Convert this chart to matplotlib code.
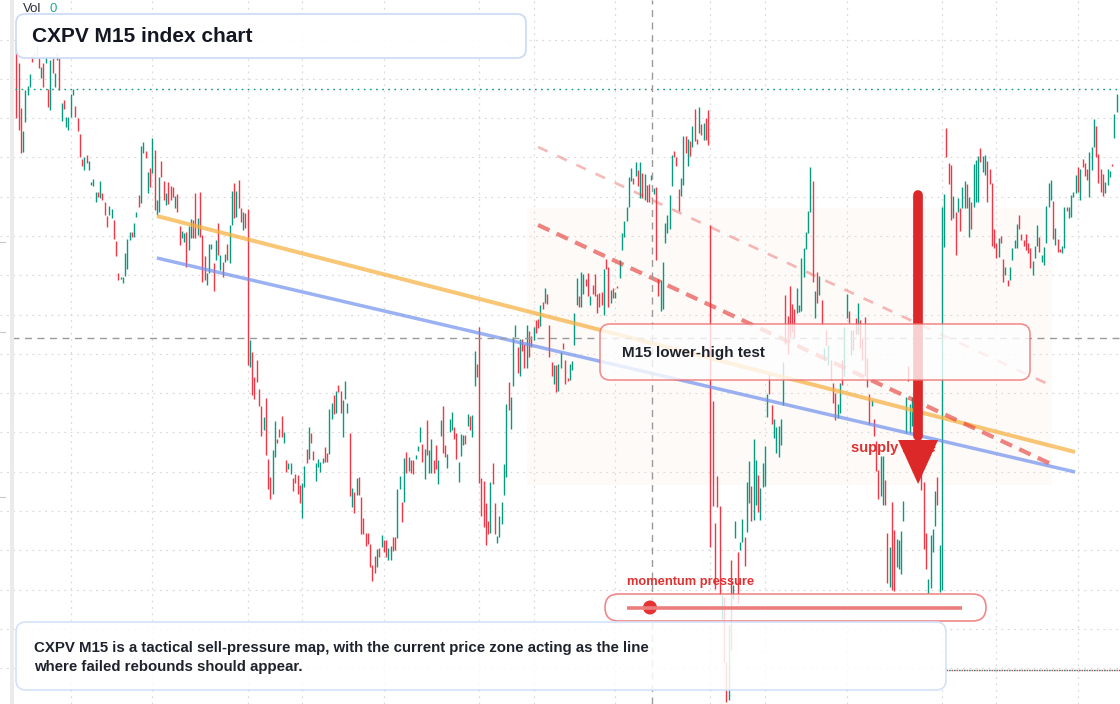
import matplotlib
matplotlib.use("Agg")
import matplotlib.pyplot as plt
from matplotlib.patches import FancyBboxPatch, Polygon, Rectangle, Circle

plt.rcParams['font.family'] = ['Liberation Sans', 'DejaVu Sans']

# ---------------- data (price points, one entry per M15 candle) ----------------
opens = [958, 937, 892, 848, 878, 905, 913, 945, 942, 944, 942, 922, 937, 937, 911, 890, 942, 913, 940, 942,
         879, 900, 873, 870, 883, 905, 894, 882, 866, 841, 830, 845, 830, 815, 814, 798, 808, 802, 807, 798,
         784, 785, 782, 780, 759, 727, 721, 717, 724, 731, 760, 768, 763, 783, 805, 797, 847, 849, 807, 832,
         827, 850, 785, 788, 839, 819, 795, 818, 814, 813, 792, 806, 774, 762, 758, 768, 750, 762, 780, 807,
         765, 808, 765, 744, 715, 727, 751, 737, 740, 777, 730, 738, 738, 756, 737, 775, 817, 783, 820, 792,
         770, 787, 791, 633, 648, 623, 640, 611, 594, 570, 602, 541, 523, 506, 543, 561, 571, 584, 557, 540,
         531, 526, 522, 526, 525, 515, 482, 513, 551, 541, 567, 549, 519, 533, 528, 537, 553, 547, 546, 581,
         605, 587, 615, 609, 563, 601, 587, 567, 493, 508, 505, 523, 503, 482, 467, 467, 456, 435, 444, 433,
         452, 453, 460, 460, 440, 440, 463, 463, 462, 511, 498, 498, 548, 529, 540, 540, 541, 549, 558, 556,
         521, 580, 527, 527, 540, 555, 516, 564, 594, 555, 532, 568, 570, 573, 567, 518, 544, 555, 565, 574,
         584, 563, 614, 636, 673, 522, 519, 497, 479, 467, 537, 497, 457, 463, 476, 505, 523, 618, 571, 614,
         663, 653, 624, 661, 656, 632, 669, 664, 660, 680, 681, 674, 698, 697, 706, 675, 638, 616, 635, 609,
         632, 657, 640, 622, 620, 630, 655, 695, 704, 693, 706, 721, 727, 695, 715, 726, 706, 707, 708, 685,
         741, 733, 697, 712, 702, 714, 722, 750, 763, 779, 793, 819, 822, 824, 830, 802, 827, 800, 815, 816,
         820, 806, 813, 721, 689, 691, 757, 767, 771, 814, 849, 843, 811, 804, 815, 864, 834, 859, 853, 891,
         861, 867, 876, 860, 882, 890, 775, 599, 477, 524, 494, 381, 403, 338, 300, 440, 401, 462, 448, 450,
         458, 463, 468, 497, 514, 480, 495, 525, 480, 513, 514, 583, 626, 595, 562, 547, 543, 555, 595, 705,
         684, 714, 696, 691, 687, 688, 689, 723, 751, 767, 788, 819, 682, 728, 705, 700, 640, 670, 635, 640,
         617, 607, 582, 587, 640, 624, 682, 689, 645, 670, 682, 666, 680, 662, 683, 642, 606, 594, 581, 559,
         530, 504, 495, 520, 467, 413, 498, 470, 433, 431, 426, 479, 567, 634, 567, 574, 574, 576, 600, 530,
         518, 467, 407, 412, 448, 474, 523, 408, 410, 753, 872, 837, 835, 782, 788, 788, 792, 792, 792, 816,
         763, 798, 793, 798, 798, 852, 828, 825, 839, 831, 817, 771, 757, 743, 764, 741, 725, 720, 720, 740,
         752, 752, 785, 766, 760, 766, 757, 752, 725, 742, 754, 763, 738, 735, 757, 793, 800, 799, 755, 761,
         751, 747, 752, 793, 782, 783, 803, 807, 833, 800, 841, 837, 831, 803, 830, 853, 874, 846, 831, 826,
         807, 815, 823, 836, 862, 888]
closes = [882, 870, 847, 869, 910, 914, 926, 938, 948, 955, 932, 933, 913, 945, 893, 940, 927, 927, 947, 910,
          897, 891, 883, 883, 906, 911, 883, 869, 843, 834, 843, 837, 839, 818, 821, 808, 803, 819, 800, 785,
          773, 794, 791, 761, 744, 720, 723, 723, 747, 761, 768, 763, 777, 788, 793, 854, 858, 842, 828, 813,
          862, 790, 800, 823, 823, 800, 807, 796, 800, 803, 804, 788, 755, 769, 767, 733, 774, 781, 762, 762,
          782, 763, 718, 720, 727, 756, 756, 709, 760, 745, 745, 723, 746, 740, 775, 809, 782, 809, 792, 778,
          788, 772, 635, 660, 605, 601, 618, 594, 564, 583, 545, 511, 501, 550, 579, 557, 563, 563, 568, 528,
          537, 537, 509, 517, 506, 497, 517, 534, 537, 573, 557, 540, 537, 541, 538, 542, 538, 538, 591, 597,
          586, 609, 608, 587, 600, 619, 597, 504, 512, 487, 522, 505, 466, 466, 454, 456, 433, 419, 427, 451,
          443, 465, 448, 443, 452, 454, 449, 450, 511, 524, 478, 542, 527, 543, 527, 526, 545, 554, 573, 538,
          551, 545, 550, 561, 527, 531, 540, 580, 547, 543, 546, 581, 588, 561, 541, 538, 566, 565, 556, 586,
          570, 585, 649, 623, 517, 484, 473, 455, 466, 518, 516, 466, 464, 484, 498, 536, 596, 590, 603, 663,
          675, 627, 661, 649, 632, 675, 643, 653, 673, 667, 672, 695, 691, 712, 696, 643, 624, 635, 608, 636,
          648, 651, 616, 619, 636, 639, 687, 722, 693, 728, 726, 714, 704, 704, 706, 704, 687, 693, 695, 731,
          731, 693, 710, 702, 708, 712, 740, 767, 779, 793, 823, 832, 816, 838, 814, 838, 802, 826, 798, 798,
          825, 812, 740, 704, 720, 738, 777, 785, 805, 845, 843, 834, 789, 822, 864, 847, 861, 844, 874, 859,
          856, 893, 865, 877, 860, 855, 453, 494, 411, 493, 405, 405, 338, 298, 375, 350, 415, 479, 397, 458,
          481, 434, 518, 539, 479, 561, 540, 488, 512, 537, 554, 606, 606, 576, 581, 573, 574, 581, 638, 656,
          646, 663, 668, 662, 712, 695, 742, 752, 768, 789, 833, 718, 709, 697, 724, 675, 652, 655, 655, 620,
          597, 580, 596, 617, 615, 673, 706, 677, 670, 650, 666, 697, 652, 640, 624, 613, 576, 600, 564, 529,
          501, 544, 544, 495, 417, 453, 410, 409, 461, 460, 469, 499, 603, 619, 596, 603, 605, 611, 520, 510,
          451, 431, 421, 465, 471, 509, 495, 455, 793, 806, 843, 816, 780, 804, 745, 802, 769, 813, 819, 792,
          803, 771, 836, 840, 844, 838, 844, 845, 798, 816, 754, 752, 742, 762, 757, 718, 733, 714, 733, 752,
          760, 776, 771, 760, 754, 750, 747, 732, 739, 754, 775, 748, 745, 753, 794, 817, 820, 761, 772, 748,
          748, 754, 793, 789, 793, 805, 808, 825, 808, 831, 833, 824, 820, 848, 853, 881, 843, 817, 808, 804,
          818, 831, 829, 834, 886, 906]

session_ticks = [24, 60, 102, 126, 162, 204, 228, 264, 306, 330, 366, 408, 432, 468]
price_grid = [960, 921, 882, 843, 803, 764, 725, 685, 646, 607, 568, 528, 489, 450, 410, 371, 332]
last_price = 911
session_low_mark = 330
crosshair_bar, crosshair_price = 280.2, 662

# analysis overlays (bar index, price)
resist_line = ([62.0, 466.7], [784, 548])
support_line = ([62.0, 466.7], [742, 528])
upper_channel = ([230.0, 456.6], [853, 614])
lower_channel = ([230.0, 458.0], [775, 534])
zone_bars, zone_prices = (225.1, 456.6), (515, 792)
arrow_bar, arrow_top, arrow_base, arrow_tip, arrow_half = 397.5, 805, 560, 516, 8.8

UP, DOWN = '#089981', '#f23645'

fig = plt.figure(figsize=(11.2, 7.04), dpi=100)
ax = fig.add_axes([0, 0, 1, 1])
ax.set_xlim(-7.16, 486.5)
ax.set_ylim(296, 1000)
ax.axis('off')

# grid
for t in session_ticks:
    ax.axvline(t, color='#dadada', lw=0.85, ls=(0, (1.6, 3.8)), zorder=0.5)
for p in price_grid:
    ax.axhline(p, color='#dadada', lw=0.85, ls=(0, (1.6, 3.8)), zorder=0.5)

# highlighted zone
ax.add_patch(Rectangle((zone_bars[0], zone_prices[0]), zone_bars[1] - zone_bars[0],
                       zone_prices[1] - zone_prices[0], facecolor='#f7e4d6', alpha=0.16,
                       lw=0, zorder=1))

# candles
n = min(len(opens), len(closes))
idx = list(range(n))
lows = [min(opens[i], closes[i]) for i in idx]
highs = [max(opens[i], closes[i]) for i in idx]
cols = [UP if closes[i] >= opens[i] else DOWN for i in idx]
ax.vlines(idx, lows, highs, colors=cols, lw=1.0, zorder=3)

# last price + marker line
ax.axhline(last_price, xmin=0.013, color=UP, lw=1.0, ls=(0, (1.2, 3.2)), zorder=3.5)
ax.axhline(session_low_mark, xmin=0.845, color=DOWN, lw=1.0, ls=(0, (1.2, 2.4)), zorder=3.5)
ax.axhline(session_low_mark, xmin=0.845, color=UP, lw=1.0, ls=(1.8, (1.2, 2.4)), zorder=3.5)

# trend lines
ax.plot(*resist_line, color='#f7b040', alpha=0.72, lw=2.9, solid_capstyle='butt', zorder=4)
ax.plot(*support_line, color='#6f90ee', alpha=0.7, lw=2.5, solid_capstyle='butt', zorder=4)
ax.plot(*upper_channel, color='#e53935', alpha=0.35, lw=1.9, ls=(0, (4, 4)), zorder=4)
ax.plot(*lower_channel, color='#e53935', alpha=0.62, lw=3.0, ls=(0, (3, 1.9)), zorder=4)

# crosshair
ax.axvline(crosshair_bar, color='#9a9a9a', lw=1.0, ls=(0, (5, 4)), zorder=5)
ax.axhline(crosshair_price, xmin=0.011, color='#9a9a9a', lw=1.0, ls=(0, (5, 4)), zorder=5)

# supply zone label and arrow
ax.text(367.9, 552, 'supply zone', color='#e03131', fontsize=10.5, fontweight='bold',
        va='center', ha='left', zorder=6)
ax.plot([arrow_bar, arrow_bar], [arrow_top, arrow_base + 4], color='#dc2828', lw=7,
        solid_capstyle='round', zorder=7)
ax.add_patch(Polygon([(arrow_bar - arrow_half, arrow_base), (arrow_bar + arrow_half, arrow_base),
                      (arrow_bar, arrow_tip)], closed=True, facecolor='#dc2828',
                     edgecolor='none', zorder=7))

# ---------------- overlay (screen elements) ----------------
ov = fig.add_axes([0, 0, 1, 1], zorder=10)
ov.set_xlim(0, 1120)
ov.set_ylim(704, 0)
ov.axis('off')
ov.patch.set_alpha(0)

ov.add_patch(Rectangle((10, 0), 4, 704, facecolor='#ebebeb', lw=0))
for yy in (242, 332, 497):
    ov.plot([0, 5], [yy, yy], color='#c8c8c8', lw=0.8)

ov.text(23, 9, 'Vol', fontsize=9.5, color='#2a2e39', va='center', ha='left')
ov.text(49, 9, '0', fontsize=9.5, color='#22ab94', va='center', ha='left')

ov.add_patch(FancyBboxPatch((16, 14), 510, 44, boxstyle='round,pad=0,rounding_size=9',
                            facecolor=(1, 1, 1, 0.93), edgecolor='#c9d9f6', lw=1.2))
ov.text(32, 36.5, 'CXPV M15 index chart', fontsize=15, fontweight='bold', color='#131722',
        va='center', ha='left')

ov.add_patch(FancyBboxPatch((600, 324), 430, 56, boxstyle='round,pad=0,rounding_size=10',
                            facecolor=(1, 1, 1, 0.78), edgecolor=(0.93, 0.42, 0.42, 0.75), lw=1.2))
ov.text(622, 353, 'M15 lower-high test', fontsize=11, fontweight='bold', color='#1e222d',
        va='center', ha='left')

ov.text(627, 582, 'momentum pressure', fontsize=9.3, fontweight='bold', color='#e03131',
        va='center', ha='left')
ov.add_patch(FancyBboxPatch((605, 594), 381, 27, boxstyle='round,pad=0,rounding_size=13.5',
                            facecolor=(1, 1, 1, 0.8), edgecolor=(0.93, 0.42, 0.42, 0.8), lw=1.2))
ov.plot([627, 962], [607.5, 607.5], color='#ec7d7d', lw=2.6, solid_capstyle='butt')
ov.add_patch(Circle((650, 607.5), 7, facecolor='#e53333', edgecolor='none'))

ov.add_patch(FancyBboxPatch((16, 622), 930, 68, boxstyle='round,pad=0,rounding_size=10',
                            facecolor=(1, 1, 1, 0.86), edgecolor='#d3e1fa', lw=1.2))
ov.text(34, 648, 'CXPV M15 is a tactical sell-pressure map, with the current price zone acting as the line',
        fontsize=10.8, fontweight='bold', color='#1e222d', va='center', ha='left')
ov.text(34, 667, 'where failed rebounds should appear.',
        fontsize=10.8, fontweight='bold', color='#1e222d', va='center', ha='left')

fig.savefig('out.png', dpi=100)
